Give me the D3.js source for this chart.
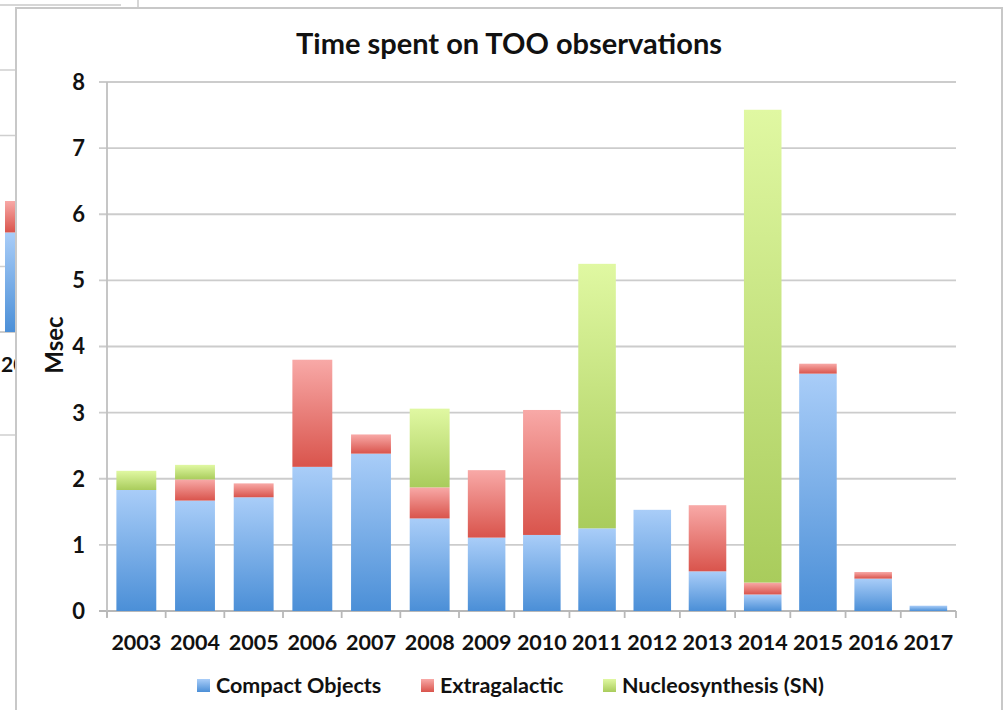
<!DOCTYPE html>
<html>
<head>
  <meta charset="utf-8">
  <script src="https://d3js.org/d3.v7.min.js"></script>
  <title>Time spent on TOO observations</title>
  <style>
  body { margin: 0; background: #fff; }
  svg text { font-family: Lato, "Open Sans", sans-serif; font-weight: bold; fill: #111; }
  </style>
</head>
<body>
<svg id="stage" width="1004" height="710"></svg>
<script>
// data (Msec)
var years = ["2003","2004","2005","2006","2007","2008","2009","2010","2011","2012","2013","2014","2015","2016","2017"];
var compact = [1.83, 1.67, 1.72, 2.18, 2.38, 1.40, 1.11, 1.15, 1.25, 1.53, 0.60, 0.25, 3.59, 0.49, 0.08];
var extragalactic = [0, 0.32, 0.21, 1.62, 0.29, 0.47, 1.02, 1.89, 0, 0, 1.00, 0.18, 0.15, 0.10, 0];
var nucleo = [0.29, 0.22, 0, 0, 0, 1.19, 0, 0, 4.00, 0, 0, 7.15, 0, 0, 0];
var seriesNames = ["Compact Objects", "Extragalactic", "Nucleosynthesis (SN)"];
var yTicks = [0, 1, 2, 3, 4, 5, 6, 7, 8];

// fragment of the chart window behind (left edge)
var ghostCompact = [1.52];
var ghostExtra = [0.48];

var keys = ["compact", "extra", "nucleo"];
var colors = {
  compact: ["#a9cdf8", "#4b8fd7"],
  extra:   ["#f8a9a7", "#d9544c"],
  nucleo:  ["#e0f8a2", "#a9cc5c"]
};

var svg = d3.select("#stage");
var defs = svg.append("defs");
keys.forEach(function(k) {
  var gr = defs.append("linearGradient").attr("id", "grad-" + k)
      .attr("x1", 0).attr("y1", 0).attr("x2", 0).attr("y2", 1);
  gr.append("stop").attr("offset", "0%").attr("stop-color", colors[k][0]);
  gr.append("stop").attr("offset", "100%").attr("stop-color", colors[k][1]);
});

// ---- background window fragment ----
var bg = svg.append("g");
bg.append("line").attr("x1", 0).attr("x2", 121).attr("y1", 5).attr("y2", 5)
  .attr("stroke", "#c8c8c8").attr("stroke-width", 1.5);
bg.append("line").attr("x1", 138).attr("x2", 138).attr("y1", 0).attr("y2", 8)
  .attr("stroke", "#c8c8c8").attr("stroke-width", 1.5);
var gy = d3.scaleLinear().domain([0, 4]).range([332, 70]);
bg.selectAll("line.gg").data([1, 3, 4]).enter().append("line")
  .attr("x1", 0).attr("x2", 16)
  .attr("y1", function(d) { return gy(d); }).attr("y2", function(d) { return gy(d); })
  .attr("stroke", "#cfcfcf").attr("stroke-width", 1.5);
bg.append("line").attr("x1", 0).attr("x2", 16).attr("y1", 435).attr("y2", 435)
  .attr("stroke", "#cfcfcf").attr("stroke-width", 1.5);
bg.append("line").attr("x1", 0).attr("x2", 16).attr("y1", gy(0)).attr("y2", gy(0))
  .attr("stroke", "#bbb").attr("stroke-width", 1.5);
bg.append("rect").attr("x", 5).attr("width", 11)
  .attr("y", gy(ghostCompact[0])).attr("height", gy(0) - gy(ghostCompact[0]))
  .attr("fill", "url(#grad-compact)");
bg.append("rect").attr("x", 5).attr("width", 11)
  .attr("y", gy(ghostCompact[0] + ghostExtra[0])).attr("height", gy(0) - gy(ghostExtra[0]))
  .attr("fill", "url(#grad-extra)");
bg.append("text").attr("x", 1).attr("y", 372).attr("font-size", "21px").text("20");

// ---- main panel ----
svg.append("rect").attr("x", 16).attr("y", 8).attr("width", 986).attr("height", 720)
  .attr("fill", "#fff").attr("stroke", "#c8c8c8").attr("stroke-width", 2);

var plotLeft = 107, plotRight = 956, plotTop = 82, plotBottom = 611;

// category index -> x; the screenshot is stretched a little on the left half
var x = d3.scaleLinear().domain([0, 6, years.length]).range([plotLeft, 459, plotRight]);
var barPad = 0.16;
var y = d3.scaleLinear().domain([0, 8]).range([plotBottom, plotTop]);

svg.append("text").attr("x", 509).attr("y", 54).attr("text-anchor", "middle")
  .attr("font-size", "29px").text("Time spent on TOO observations");

// gridlines
svg.append("g").selectAll("line").data(yTicks).enter().append("line")
  .attr("x1", plotLeft - 8).attr("x2", plotRight)
  .attr("y1", function(d) { return y(d); }).attr("y2", function(d) { return y(d); })
  .attr("stroke", function(d) { return d === 0 ? "#b8b8b8" : "#cccccc"; })
  .attr("stroke-width", 1.8);

// y axis labels
svg.append("g").selectAll("text").data(yTicks).enter().append("text")
  .attr("x", 85).attr("y", function(d) { return y(d); }).attr("dy", "0.36em")
  .attr("text-anchor", "end").attr("font-size", "22px")
  .text(function(d) { return d; });

svg.append("line").attr("x1", plotLeft).attr("x2", plotLeft).attr("y1", plotTop).attr("y2", plotBottom + 6)
  .attr("stroke", "#c0c0c0").attr("stroke-width", 1.8);

// stacked bars
var table = years.map(function(yr, i) {
  return { idx: i, year: yr, compact: compact[i], extra: extragalactic[i], nucleo: nucleo[i] };
});
var stacked = d3.stack().keys(keys)(table);

svg.append("g").selectAll("g").data(stacked).enter().append("g")
    .attr("fill", function(d) { return "url(#grad-" + d.key + ")"; })
  .selectAll("rect")
  .data(function(d) { return d.filter(function(s) { return s[1] - s[0] > 0; }); })
  .enter().append("rect")
    .attr("x", function(d) { return x(d.data.idx + barPad); })
    .attr("y", function(d) { return y(d[1]); })
    .attr("width", function(d) { return x(d.data.idx + 1 - barPad) - x(d.data.idx + barPad); })
    .attr("height", function(d) { return y(d[0]) - y(d[1]); });

// x axis ticks at category boundaries
svg.append("g").selectAll("line").data(d3.range(years.length + 1)).enter().append("line")
  .attr("x1", function(d) { return x(d); }).attr("x2", function(d) { return x(d); })
  .attr("y1", plotBottom).attr("y2", plotBottom + 7)
  .attr("stroke", "#b8b8b8").attr("stroke-width", 1.8);

svg.append("g").selectAll("text").data(years).enter().append("text")
  .attr("x", function(d, i) { return x(i + 0.5); })
  .attr("y", 650).attr("text-anchor", "middle").attr("font-size", "21.5px")
  .text(function(d) { return d; });

// y axis title
svg.append("text").attr("transform", "translate(63,345) rotate(-90)")
  .attr("text-anchor", "middle").attr("font-size", "24px").text("Msec");

// legend
var legendX = [197, 421, 603];
var lg = svg.append("g").selectAll("g").data(keys).enter().append("g")
  .attr("transform", function(d, i) { return "translate(" + legendX[i] + ",679)"; });
lg.append("rect").attr("width", 13).attr("height", 13)
  .attr("fill", function(d) { return "url(#grad-" + d + ")"; });
lg.append("text").attr("x", 19).attr("y", 14).attr("font-size", "21.5px")
  .text(function(d, i) { return seriesNames[i]; });
</script>
</body>
</html>
